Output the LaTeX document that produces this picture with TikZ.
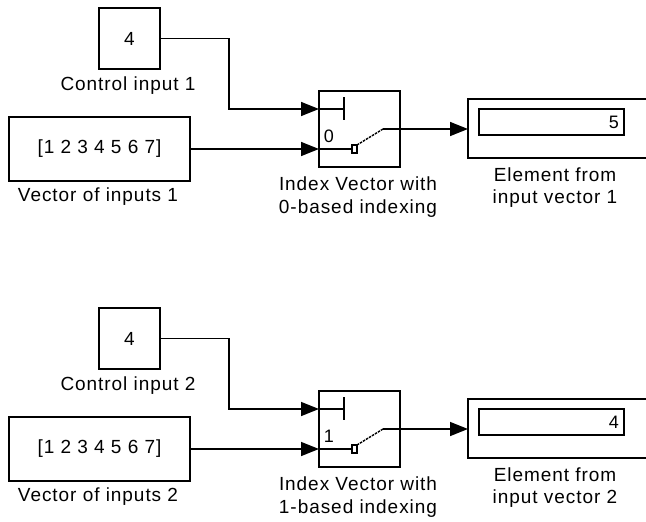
\documentclass[tikz,border=0pt]{standalone}
\usepackage{fontspec}
\setmainfont{Liberation Sans}[LetterSpace=5]
\usetikzlibrary{arrows.meta}
\begin{document}
\begin{tikzpicture}[x=1pt,y=-1pt,
  wire/.style={line width=1.5pt},
  sig/.style={wire,-{Triangle[length=18pt,width=14pt]}},
  blk/.style={draw,line width=1.5pt,inner sep=0pt,font=\fontsize{19}{22}\selectfont},
  lbl/.style={inner sep=0pt,font=\fontsize{19}{22}\selectfont},
  small/.style={inner sep=0pt,font=\fontsize{18}{20}\selectfont}]
\useasboundingbox (0,0) rectangle (646,522);
\clip (0,0) rectangle (646,522);
\foreach \i/\dy/\idx/\val in {1/0/0/5,2/300/1/4}{
\begin{scope}[shift={(0,\dy)}]
  \node[blk,minimum width=61pt,minimum height=61pt] (ctl\i) at (129.5,38.5) {4};
  \node[lbl] (ctllbl\i) at (128,86) {Control input \i};
  \node[blk,minimum width=181pt,minimum height=64pt] (vec\i) at (99.5,149) {[1 2 3 4 5 6 7]};
  \node[lbl] (veclbl\i) at (98,197) {Vector of inputs \i};
  \node[draw,line width=1.5pt,minimum width=81pt,minimum height=76pt,inner sep=0pt] (sw\i) at (359.5,129) {};
  \node[lbl] (swlbla\i) at (358,184) {Index Vector with};
  \node[lbl] (swlblb\i) at (358,209) {\idx-based indexing};
  \coordinate (in1\i) at (319,109);
  \coordinate (in2\i) at (319,149);
  \coordinate (bend\i) at (229,38.5);
  \coordinate (tick\i) at (344,109);
  \coordinate (pivL\i) at (352,149);
  \coordinate (pivR\i) at (357,145);
  \coordinate (arm\i) at (383,129);
  \coordinate (out\i) at (400,129);
  \node[small] (idx\i) at (329,136) {\idx};
  \draw[wire] (in1\i) -- (tick\i);
  \draw[wire] (344,97) -- (344,120);
  \draw[wire] (in2\i) -- (pivL\i);
  \draw[line width=1.5pt] (352,145) rectangle (357,153);
  \draw[line width=1.4pt,dash pattern=on 2.5pt off 1pt] (pivR\i) -- (arm\i);
  \draw[wire] (arm\i) -- (out\i);
  \draw[line width=1.5pt] (650,99) -- (468,99) -- (468,158) -- (650,158);
  \node[draw,line width=1.5pt,minimum width=145pt,minimum height=26pt,inner sep=0pt] (disp\i) at (551.5,122) {};
  \node[small,anchor=east] (val\i) at (619,122) {\val};
  \coordinate (dispin\i) at (468,129);
  \node[lbl] (dlbla\i) at (555,175) {Element from};
  \node[lbl] (dlblb\i) at (555,199) {input vector \i};
  \draw[sig] (ctl\i.east) -- (bend\i) |- (in1\i);
  \draw[sig] (vec\i.east) -- (in2\i);
  \draw[sig] (out\i) -- (dispin\i);
\end{scope}}
\end{tikzpicture}
\end{document}
